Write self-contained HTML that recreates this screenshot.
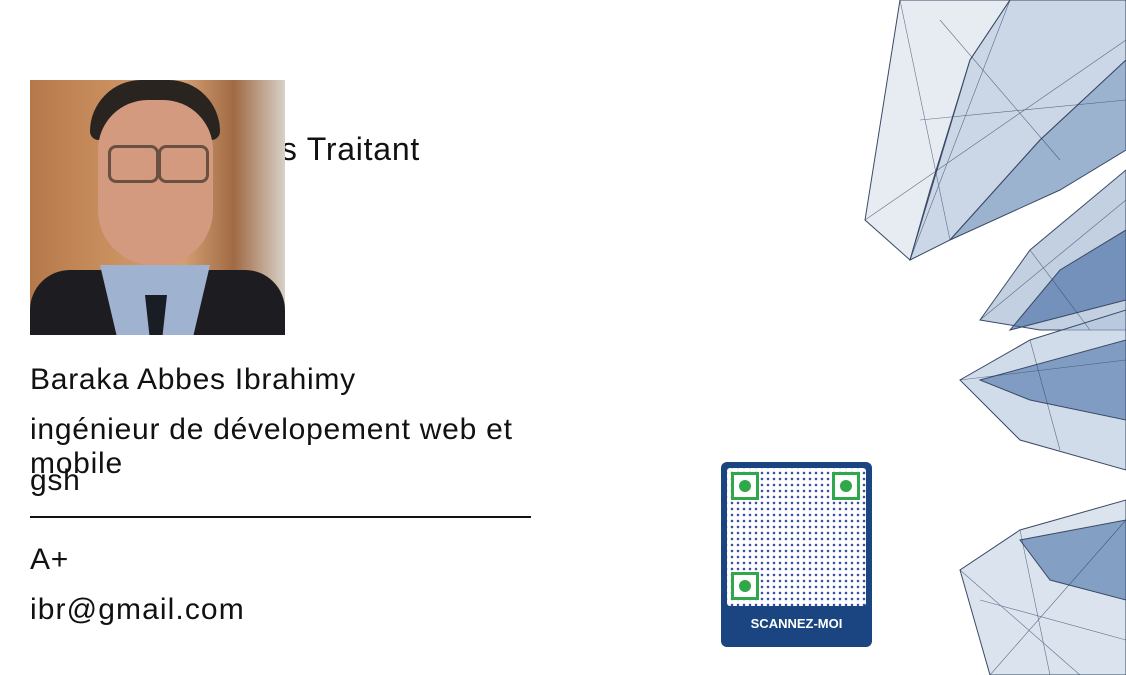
<!DOCTYPE html>
<html><head><meta charset="utf-8"><style>
body{margin:0;width:1126px;height:675px;background:#fff;overflow:hidden;position:relative;font-family:"Liberation Sans",sans-serif;color:#111}
.t{position:absolute;left:30px;white-space:nowrap;font-size:30px;line-height:34px;letter-spacing:0.75px}
</style></head><body>
<div class="t" style="top:132px;font-size:32px;left:0;width:420px;text-align:right">Médecins Traitant</div>
<div style="position:absolute;left:30px;top:80px;width:255px;height:255px;overflow:hidden;background:linear-gradient(90deg,#b5784a 0%,#c98e5e 30%,#d49f73 60%,#a06a44 80%,#d8d0c8 100%)">
 <div style="position:absolute;left:60px;top:0;width:130px;height:60px;border-radius:60px 60px 10px 10px;background:#2a2420"></div>
 <div style="position:absolute;left:68px;top:20px;width:115px;height:165px;border-radius:50px 50px 55px 55px;background:#d49a80"></div>
 <div style="position:absolute;left:78px;top:65px;width:45px;height:32px;border:3px solid #6a5040;border-radius:8px"></div>
 <div style="position:absolute;left:128px;top:65px;width:45px;height:32px;border:3px solid #6a5040;border-radius:8px"></div>
 <div style="position:absolute;left:0;top:190px;width:255px;height:65px;background:#1d1c20;border-radius:40px 40px 0 0"></div>
 <div style="position:absolute;left:70px;top:185px;width:110px;height:70px;background:#9fb2d0;clip-path:polygon(0 0,100% 0,85% 100%,15% 100%)"></div>
 <div style="position:absolute;left:115px;top:215px;width:22px;height:40px;background:#1a1d24;clip-path:polygon(0 0,100% 0,80% 100%,20% 100%)"></div>
</div>
<div class="t" style="top:363px">Baraka Abbes Ibrahimy</div>
<div class="t" style="top:413px;white-space:normal;width:500px">ingénieur de dévelopement web et mobile</div>
<div class="t" style="top:464px">gsh</div>
<div style="position:absolute;left:30px;top:516px;width:501px;height:2px;background:#111"></div>
<div class="t" style="top:543px">A+</div>
<div class="t" style="top:593px;letter-spacing:1.1px">ibr@gmail.com</div>
<div style="position:absolute;left:721px;top:462px;width:151px;height:185px;background:#1b4580;border-radius:6px">
 <div style="position:absolute;left:6px;top:6px;width:139px;height:138px;background:#fff;border-radius:3px;background-image:radial-gradient(#3a4fa8 1.1px,transparent 1.5px);background-size:6px 6px;background-position:2px 2px"></div>
 <div style="position:absolute;left:10px;top:10px;width:28px;height:28px;background:#fff;border:3px solid #2fa84a;box-sizing:border-box"><div style="margin:5px;width:12px;height:12px;border-radius:50%;background:#2fa84a"></div></div>
 <div style="position:absolute;left:111px;top:10px;width:28px;height:28px;background:#fff;border:3px solid #2fa84a;box-sizing:border-box"><div style="margin:5px;width:12px;height:12px;border-radius:50%;background:#2fa84a"></div></div>
 <div style="position:absolute;left:10px;top:110px;width:28px;height:28px;background:#fff;border:3px solid #2fa84a;box-sizing:border-box"><div style="margin:5px;width:12px;height:12px;border-radius:50%;background:#2fa84a"></div></div>
 <div style="position:absolute;left:0;top:154px;width:151px;text-align:center;color:#fff;font-weight:bold;font-size:13px">SCANNEZ-MOI</div>
</div>
<svg style="position:absolute;left:860px;top:0" width="266" height="675">
 <g stroke="#3a4a66" stroke-width="1" fill-opacity="0.6">
  <polygon points="40,0 150,0 110,60 70,190 50,260 5,220" fill="#d7dfea"/>
  <polygon points="150,0 266,0 266,60 180,140 90,240 50,260 110,60" fill="#a9bcd6"/>
  <polygon points="266,60 266,150 200,190 90,240 180,140" fill="#5a80b0"/>
  <polygon points="266,170 266,330 180,330 120,320 170,250" fill="#9ab1cf"/>
  <polygon points="266,230 266,300 150,330 200,270" fill="#3d68a0"/>
  <polygon points="266,310 266,470 160,440 100,380 170,340" fill="#b3c4dc"/>
  <polygon points="266,340 266,420 170,400 120,380" fill="#4a72a8"/>
  <polygon points="266,500 266,675 130,675 100,570 160,530" fill="#c3d0e2"/>
  <polygon points="266,520 266,600 190,580 160,540" fill="#4a72a8"/>
 </g>
 <g stroke="#2c3d5c" stroke-width="0.6" fill="none" opacity="0.7">
  <path d="M40,0 L90,240 M150,0 L50,260 M80,20 L200,160 M5,220 L266,40 M60,120 L266,100 M120,320 L266,200 M170,250 L230,330 M100,380 L266,360 M170,340 L200,450 M130,675 L266,520 M100,570 L220,675 M160,530 L190,675 M120,600 L266,640"/>
 </g>
</svg>
</body></html>
